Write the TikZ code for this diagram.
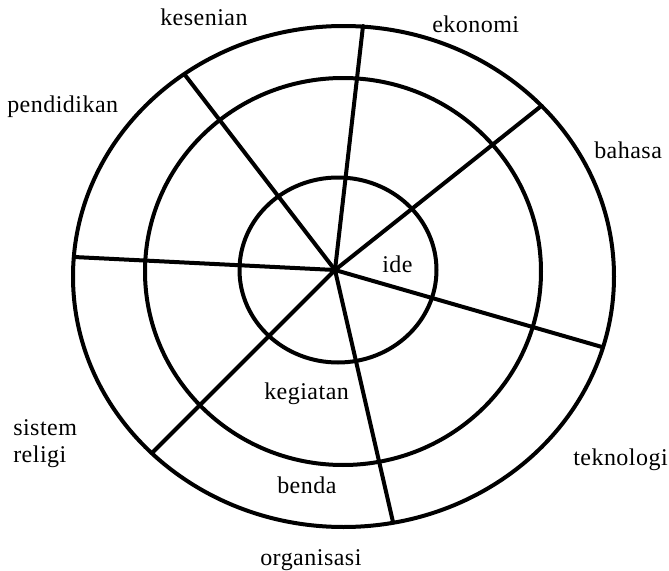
\documentclass[tikz,border=0pt]{standalone}
\usepackage{fontspec}
\newfontfamily\lblfont[LetterSpace=2]{Liberation Serif}
\begin{document}
\begin{tikzpicture}[x=0.75pt,y=-0.75pt,
  ring/.style={line width=3pt},
  spoke/.style={line width=3pt,line cap=round},
  lbl/.style={inner sep=0pt,anchor=base west,font=\lblfont\fontsize{18}{20.25}\selectfont,align=left}]
\useasboundingbox (0,0) rectangle (669,571);
% rings
\draw[ring] (343.5,276.5) ellipse [x radius=270.5, y radius=250.5];
\draw[ring] (343,271.5) ellipse [x radius=198, y radius=193.5];
\draw[ring] (338,270) ellipse [x radius=98.5, y radius=92.5];
% hub and spoke ends
\coordinate (hub) at (335,270);
\coordinate (sKes) at (185,75);
\coordinate (sEko) at (363,26);
\coordinate (sBah) at (540,107);
\coordinate (sTek) at (602,347);
\coordinate (sOrg) at (393,522);
\coordinate (sRel) at (153,452);
\coordinate (sPen) at (74,257);
\foreach \e in {sKes,sEko,sBah,sTek,sOrg,sRel,sPen}
  \draw[spoke] (hub) -- (\e);
% labels
\node[lbl] (kesenian) at (160,26) {kesenian};
\node[lbl] (ekonomi) at (432,32) {ekonomi};
\node[lbl] (pendidikan) at (7,112) {pendidikan};
\node[lbl] (bahasa) at (594,158) {bahasa};
\node[lbl] (ide) at (382,272) {ide};
\node[lbl] (kegiatan) at (264,399) {kegiatan};
\node[lbl] (sistem) at (13,435) {sistem};
\node[lbl] (religi) at (13,462) {religi};
\node[lbl] (teknologi) at (573,465) {teknologi};
\node[lbl] (benda) at (277,493) {benda};
\node[lbl] (organisasi) at (260,565) {organisasi};
\end{tikzpicture}
\end{document}
